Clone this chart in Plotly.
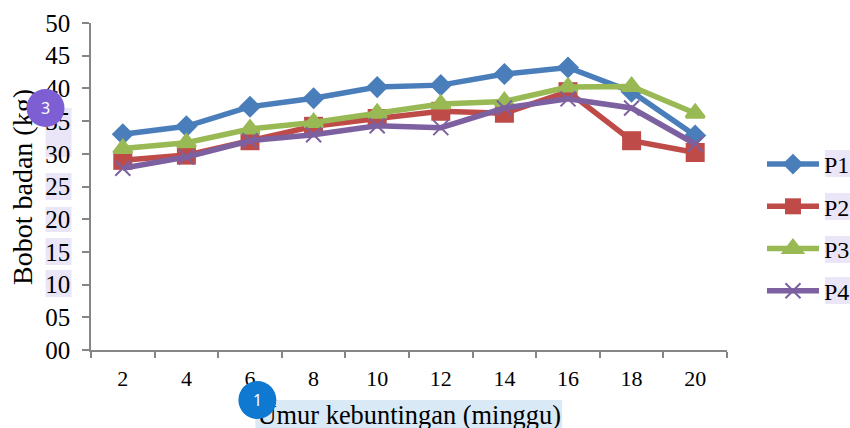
import plotly.graph_objects as go

categories = ["2", "4", "6", "8", "10", "12", "14", "16", "18", "20"]
p1 = [33.0, 34.2, 37.2, 38.5, 40.2, 40.5, 42.2, 43.2, 39.5, 32.8]
p2 = [29.0, 29.8, 32.0, 34.2, 35.4, 36.5, 36.2, 39.5, 32.0, 30.2]
p3 = [30.8, 31.7, 33.8, 34.8, 36.2, 37.6, 38.0, 40.2, 40.3, 36.2]
p4 = [27.8, 29.5, 32.0, 32.9, 34.3, 34.0, 37.0, 38.4, 37.0, 31.5]
y_ticks = [0, 5, 10, 15, 20, 25, 30, 35, 40, 45, 50]
y_labels = ["00", "05", "10", "15", "20", "25", "30", "35", "40", "45", "50"]
y_title = "Bobot badan (kg)"
x_title = "Umur kebuntingan (minggu)"

W, H = 850, 428
L, R, T, B = 90.5, 727, 23, 350
FONT = "Liberation Serif"


def px(x):
    return (x - L) / (R - L)


def py(y):
    return (B - y) / (B - T)


def box(x0, y0, x1, y1, color):
    return dict(type="rect", xref="paper", yref="paper", x0=px(x0), x1=px(x1),
                y0=py(y1), y1=py(y0), fillcolor=color, line_width=0, layer="below")


def disc(cx, cy, r, color):
    return dict(type="circle", xref="paper", yref="paper", x0=px(cx - r), x1=px(cx + r),
                y0=py(cy + r), y1=py(cy - r), fillcolor=color, line_width=0, layer="above")


def text_box(text, x0, y0, x1, y1, size, angle=0):
    return dict(type="rect", xref="paper", yref="paper", x0=px(x0), x1=px(x1),
                y0=py(y1), y1=py(y0), fillcolor="rgba(0,0,0,0)", line_width=0, layer="above",
                label=dict(text=text, textangle=angle, textposition="middle center",
                           font=dict(family=FONT, size=size, color="#000000")))


fig = go.Figure()
styles = [("P1", p1, "#4A7EBB", "diamond", 17, 0),
          ("P2", p2, "#BE4B48", "square", 19, 0),
          ("P3", p3, "#98B954", "triangle-up", 16, 3),
          ("P4", p4, "#7D60A0", "x-thin", 15, 2)]
for name, vals, col, sym, size, lw in styles:
    fig.add_trace(go.Scatter(
        x=categories, y=vals, name=name, mode="lines+markers", legendgroup=name,
        line=dict(color=col, width=5.5),
        marker=dict(symbol=sym, size=size, color=col, line=dict(color=col, width=lw)),
    ))

LAV = "#EAE6F8"
shapes = [box(45, y0, 71, y1, LAV) for y0, y1 in
          [(108, 132), (131, 157), (173, 200), (207, 232), (238, 265), (270, 297)]]
shapes += [box(825, y0, 850, y1, LAV) for y0, y1 in
           [(150, 177), (193, 220), (236, 263), (277, 304)]]
shapes.append(box(255, 400, 562, 428, "#DAE9F6"))
shapes.append(text_box(y_title, 4, 61, 34, 313, 28, angle=-90))
shapes.append(text_box(x_title, 239, 398, 579, 427, 26.4))
shapes.append(disc(45, 108, 19, "#7E5FD3"))
shapes.append(disc(257, 400, 19, "#0F78D0"))


def note(text, x, y, size, color="#FFFFFF", fam="Noto Sans"):
    return dict(text=text, xref="paper", yref="paper", x=px(x), y=py(y), showarrow=False,
                xanchor="center", yanchor="middle",
                font=dict(family=fam, size=size, color=color))


fig.update_layout(
    width=W, height=H,
    margin=dict(l=L, r=W - R, t=T, b=H - B, autoexpand=False),
    paper_bgcolor="#FFFFFF", plot_bgcolor="#FFFFFF",
    font=dict(family=FONT, size=24, color="#000000"),
    shapes=shapes,
    annotations=[note("3", 45, 108, 16), note("1", 257, 400, 16)],
    xaxis=dict(type="category", categoryorder="array", categoryarray=categories,
               range=[-0.5, 9.5], tickson="boundaries", ticks="outside", ticklen=6,
               tickwidth=1.5, tickcolor="#868686", showline=True, linecolor="#868686",
               linewidth=1.5, showgrid=False, zeroline=False, tickfont=dict(size=22),
               ticklabelstandoff=8),
    yaxis=dict(range=[0, 50], tickvals=y_ticks, ticktext=y_labels, ticks="outside",
               ticklen=7, tickwidth=1.5, tickcolor="#868686", showline=True,
               linecolor="#868686", linewidth=1.5, showgrid=False, zeroline=False,
               tickfont=dict(size=25), ticklabelstandoff=7),
    legend=dict(x=px(762), y=py(142), xanchor="left", yanchor="top", tracegroupgap=8,
                font=dict(size=24), itemwidth=52, bgcolor="rgba(0,0,0,0)"),
)

fig.write_html("out.html", config={"displayModeBar": False},
               post_script="document.body.style.margin='0';document.documentElement.style.overflow='hidden';")
